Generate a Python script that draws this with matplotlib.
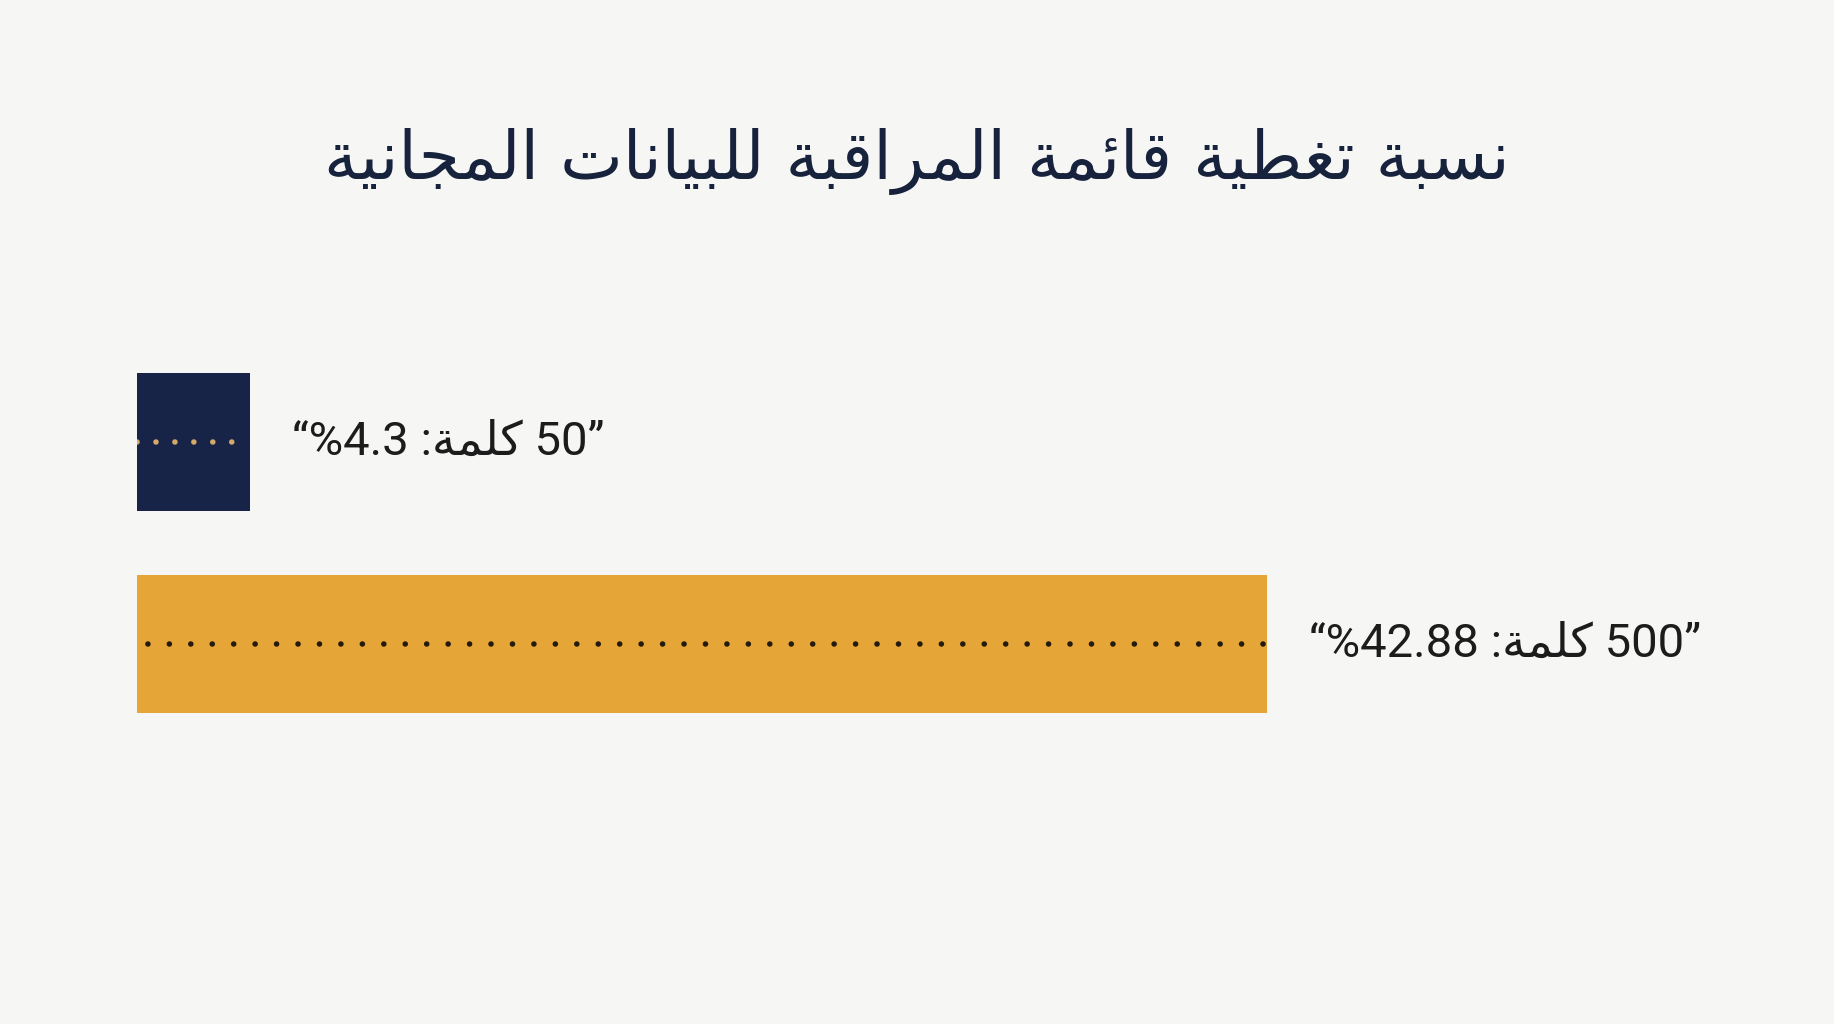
import matplotlib.pyplot as plt

# shaping tables for the arabic letters used (isolated, final, initial, medial)
FORMS = {
    "ا": ("\uFE8D", "\uFE8E"),
    "ر": ("\uFEAD", "\uFEAE"),
    "ة": ("\uFE93", "\uFE94"),
    "ب": ("\uFE8F", "\uFE90", "\uFE91", "\uFE92"),
    "ت": ("\uFE95", "\uFE96", "\uFE97", "\uFE98"),
    "ج": ("\uFE9D", "\uFE9E", "\uFE9F", "\uFEA0"),
    "س": ("\uFEB1", "\uFEB2", "\uFEB3", "\uFEB4"),
    "ط": ("\uFEC1", "\uFEC2", "\uFEC3", "\uFEC4"),
    "غ": ("\uFECD", "\uFECE", "\uFECF", "\uFED0"),
    "ق": ("\uFED5", "\uFED6", "\uFED7", "\uFED8"),
    "ك": ("\uFED9", "\uFEDA", "\uFEDB", "\uFEDC"),
    "ل": ("\uFEDD", "\uFEDE", "\uFEDF", "\uFEE0"),
    "م": ("\uFEE1", "\uFEE2", "\uFEE3", "\uFEE4"),
    "ن": ("\uFEE5", "\uFEE6", "\uFEE7", "\uFEE8"),
    "ي": ("\uFEF1", "\uFEF2", "\uFEF3", "\uFEF4"),
    "ئ": ("\uFE89", "\uFE8A", "\uFE8B", "\uFE8C"),
}


def arabe(txt):
    # contextual forms, then reversed for left-to-right drawing
    out = []
    for i, c in enumerate(txt):
        if c not in FORMS:
            out.append(c)
            continue
        prev = txt[i-1] if i > 0 else ""
        nxt = txt[i+1] if i < len(txt)-1 else ""
        avant = prev in FORMS and len(FORMS[prev]) == 4
        apres = len(FORMS[c]) == 4 and nxt in FORMS
        f = FORMS[c]
        if avant and apres:
            out.append(f[3])
        elif avant:
            out.append(f[1])
        elif apres:
            out.append(f[2])
        else:
            out.append(f[0])
    return "".join(out)[::-1]


titre = "نسبة تغطية قائمة المراقبة للبيانات المجانية"
mot = "كلمة"
nb_mots = ["50", "500"]
couverture = [4.3, 42.88]
textes_pct = ["4.3", "42.88"]

bleu = "#172447"
or_ = "#e6a537"
fond = "#f6f6f4"
couleurs = [bleu, or_]
couleurs_points = ["#d4a96a", "#231a10"]
espacements = [3.4, 3.85]
decalages = [0, 1.9]

plt.rcParams['font.family'] = ['Roboto', 'DejaVu Sans']

fig = plt.figure(figsize=(18.34, 10.24), dpi=100, facecolor=fond)
ax = fig.add_axes([137/1834, 0.2725, 0.9195, 0.3945])
ax.set_facecolor(fond)
ax.set_xlim(0, 64)
ax.set_ylim(1.5, -0.5)
ax.axis("off")

for i in range(len(couverture)):
    barre = ax.barh(i, couverture[i], height=0.683, color=couleurs[i])[0]
    ligne, = ax.plot([0, couverture[i]], [i, i], color=couleurs_points[i], lw=4,
                     dash_capstyle="round")
    ligne.set_linestyle((decalages[i], (0.01, espacements[i])))
    ligne.set_clip_path(barre)

    label = "“%" + textes_pct[i] + " :" + arabe(mot) + " " + nb_mots[i] + "”"
    ax.annotate(label, (couverture[i], i), xytext=(30, 0), textcoords="offset points",
                ha="left", va="center", fontsize=34, color="#1c1c1c")

fig.text(0.5, 0.842, arabe(titre), ha="center", va="center", fontsize=48,
         color="#17223d", family=['DejaVu Sans'])

plt.savefig("out.png", dpi=100, facecolor=fond)
